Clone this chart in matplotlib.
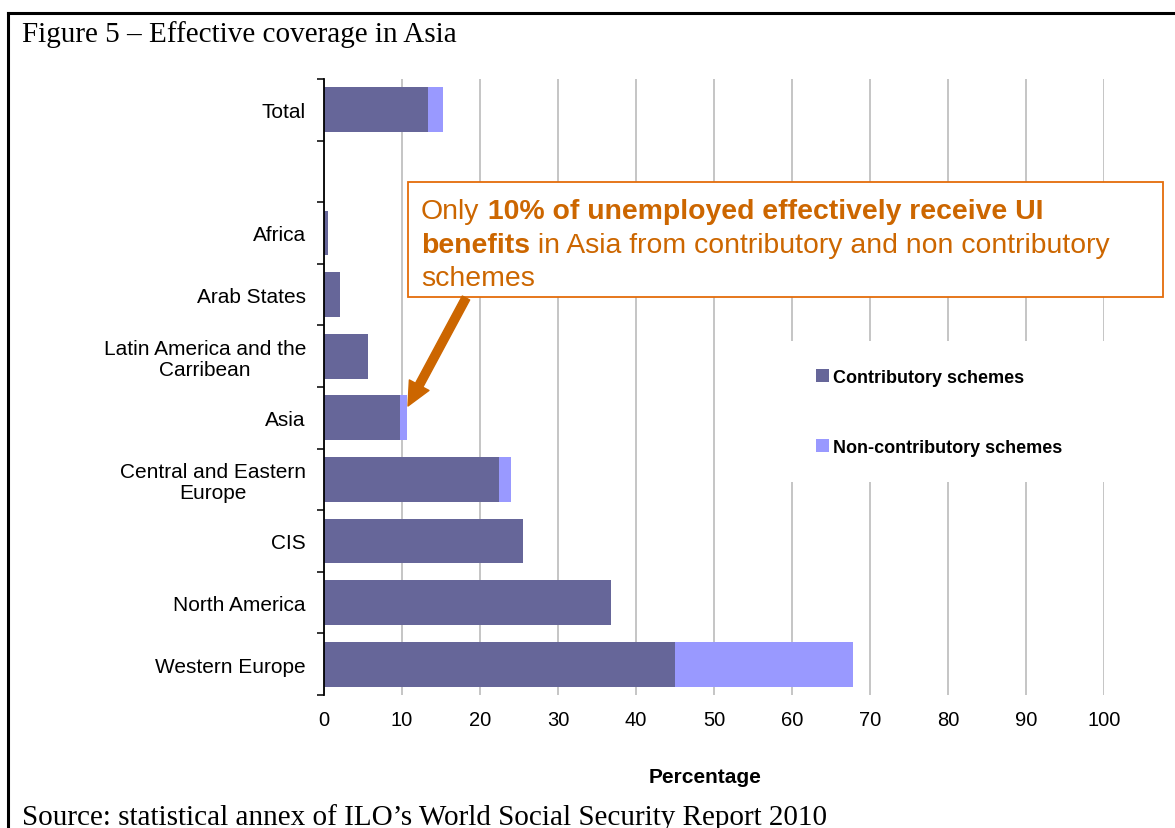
import matplotlib
matplotlib.use("Agg")
import matplotlib.pyplot as plt
from matplotlib.patches import Rectangle
from matplotlib.lines import Line2D
import numpy as np

# ---- data ----
categories = ["Total", "", "Africa", "Arab States",
              "Latin America and the\nCarribean", "Asia",
              "Central and Eastern\nEurope", "CIS", "North America",
              "Western Europe"]
contributory = [13.3, 0.0, 0.5, 2.1, 5.6, 9.7, 22.4, 25.5, 36.8, 45.0]
non_contributory = [2.0, 0.0, 0.0, 0.0, 0.0, 0.9, 1.6, 0.0, 0.0, 22.8]
series_names = ["Contributory schemes", "Non-contributory schemes"]
x_ticks = list(range(0, 101, 10))

W, H = 1175, 829
def P(x, y):
    return (x / W, 1 - y / H)

C_DARK = "#666699"
C_LIGHT = "#9999FF"
ORANGE_T = "#CC6600"
ORANGE_E = "#E46C0A"
SANS = "Liberation Sans"
SERIF = "Liberation Serif"

fig = plt.figure(figsize=(W / 100, H / 100), dpi=100)
fig.patch.set_facecolor("white")

ax = fig.add_axes([324 / W, 1 - 696 / H, 780 / W, 616 / H])
y = np.arange(len(categories))
b1 = ax.barh(y, contributory, height=0.73, color=C_DARK, zorder=2,
             label=series_names[0])
b2 = ax.barh(y, non_contributory, left=contributory, height=0.73,
             color=C_LIGHT, zorder=2, label=series_names[1])

ax.set_xlim(0, 100)
ax.set_ylim(len(categories) - 0.5, -0.5)
ax.set_xticks(x_ticks)
ax.set_xticklabels([str(t) for t in x_ticks], fontfamily=SANS, fontsize=14.5)
ax.tick_params(axis="x", length=0, pad=11)
ax.set_yticks(y)
ax.set_yticklabels(categories, fontfamily=SANS, fontsize=15, linespacing=1.12)
for lbl in ax.get_yticklabels():
    lbl.set_multialignment("center")
ax.tick_params(axis="y", which="major", length=0, pad=13)
ax.set_yticks(np.arange(-0.5, len(categories), 1.0), minor=True)
ax.tick_params(axis="y", which="minor", length=5, width=1.1, color="black")

ax.set_axisbelow(True)
ax.grid(axis="x", color="#C0C0C0", linewidth=1.3)
for s in ["top", "right", "bottom"]:
    ax.spines[s].set_visible(False)
ax.spines["left"].set_linewidth(1.3)
ax.spines["left"].set_zorder(3)

# white area behind legend (hides grid lines)
ax.add_patch(Rectangle(P(748, 483), (1166 - 748) / W, (483 - 342) / H,
                       transform=fig.transFigure, facecolor="white",
                       edgecolor="none", clip_on=False, zorder=2.5))
leg = ax.legend(handles=[b1, b2], loc="upper left",
                bbox_to_anchor=P(816, 370), bbox_transform=fig.transFigure,
                frameon=False, borderpad=0, borderaxespad=0,
                handlelength=0.7, handleheight=0.7, handletextpad=0.25,
                labelspacing=2.92,
                prop={"family": SANS, "weight": "bold", "size": 13})
leg.set_zorder(5)

# annotation box
ax.add_patch(Rectangle(P(408, 298), (1163 - 408) / W, (298 - 183) / H,
                       transform=fig.transFigure, facecolor="white",
                       edgecolor=ORANGE_E, linewidth=1.3, clip_on=False,
                       zorder=2.6))
fs_ann = 20.4
t1 = ax.text(*P(421, 219), "Only", transform=fig.transFigure,
             fontfamily=SANS, fontsize=fs_ann, color=ORANGE_T,
             va="baseline", ha="left", zorder=6)
ax.annotate(" 10% of unemployed effectively receive UI", xy=(1, 0),
            xycoords=t1, va="bottom", ha="left", fontfamily=SANS,
            fontsize=fs_ann, fontweight="bold", color=ORANGE_T, zorder=6,
            annotation_clip=False)
t2 = ax.text(*P(421, 253), "benefits", transform=fig.transFigure,
             fontfamily=SANS, fontsize=fs_ann, fontweight="bold",
             color=ORANGE_T, va="baseline", ha="left", zorder=6)
ax.annotate(" in Asia from contributory and non contributory", xy=(1, 0),
            xycoords=t2, va="bottom", ha="left", fontfamily=SANS,
            fontsize=fs_ann, color=ORANGE_T, zorder=6,
            annotation_clip=False)
ax.text(*P(421, 286), "schemes", transform=fig.transFigure,
        fontfamily=SANS, fontsize=fs_ann, color=ORANGE_T,
        va="baseline", ha="left", zorder=6)

ax.annotate("", xy=P(408, 407), xycoords="figure fraction",
            xytext=P(466, 299), textcoords="figure fraction",
            arrowprops=dict(arrowstyle="simple,head_width=0.8,head_length=0.85,tail_width=0.3",
                            color=ORANGE_T, shrinkA=0, shrinkB=0,
                            mutation_scale=20),
            annotation_clip=False, zorder=6)

# axis title
fig.text(*P(705, 778), "Percentage", fontfamily=SANS, fontsize=15,
         fontweight="bold", ha="center", va="center")

# figure title and source
fig.text(*P(22, 42), "Figure 5 \u2013 Effective coverage in Asia",
         fontfamily=SERIF, fontsize=21, ha="left", va="baseline")
fig.text(*P(22, 825),
         "Source: statistical annex of ILO\u2019s World Social Security Report 2010",
         fontfamily=SERIF, fontsize=21, ha="left", va="baseline")

# frame lines
fig.add_artist(Line2D([8 / W, 1.0], [1 - 13.5 / H, 1 - 13.5 / H],
                      color="black", linewidth=2.2, transform=fig.transFigure))
fig.add_artist(Line2D([8 / W, 8 / W], [1 - 13.5 / H, 0.0],
                      color="black", linewidth=2.2, transform=fig.transFigure))

fig.savefig("out.png", dpi=100)
